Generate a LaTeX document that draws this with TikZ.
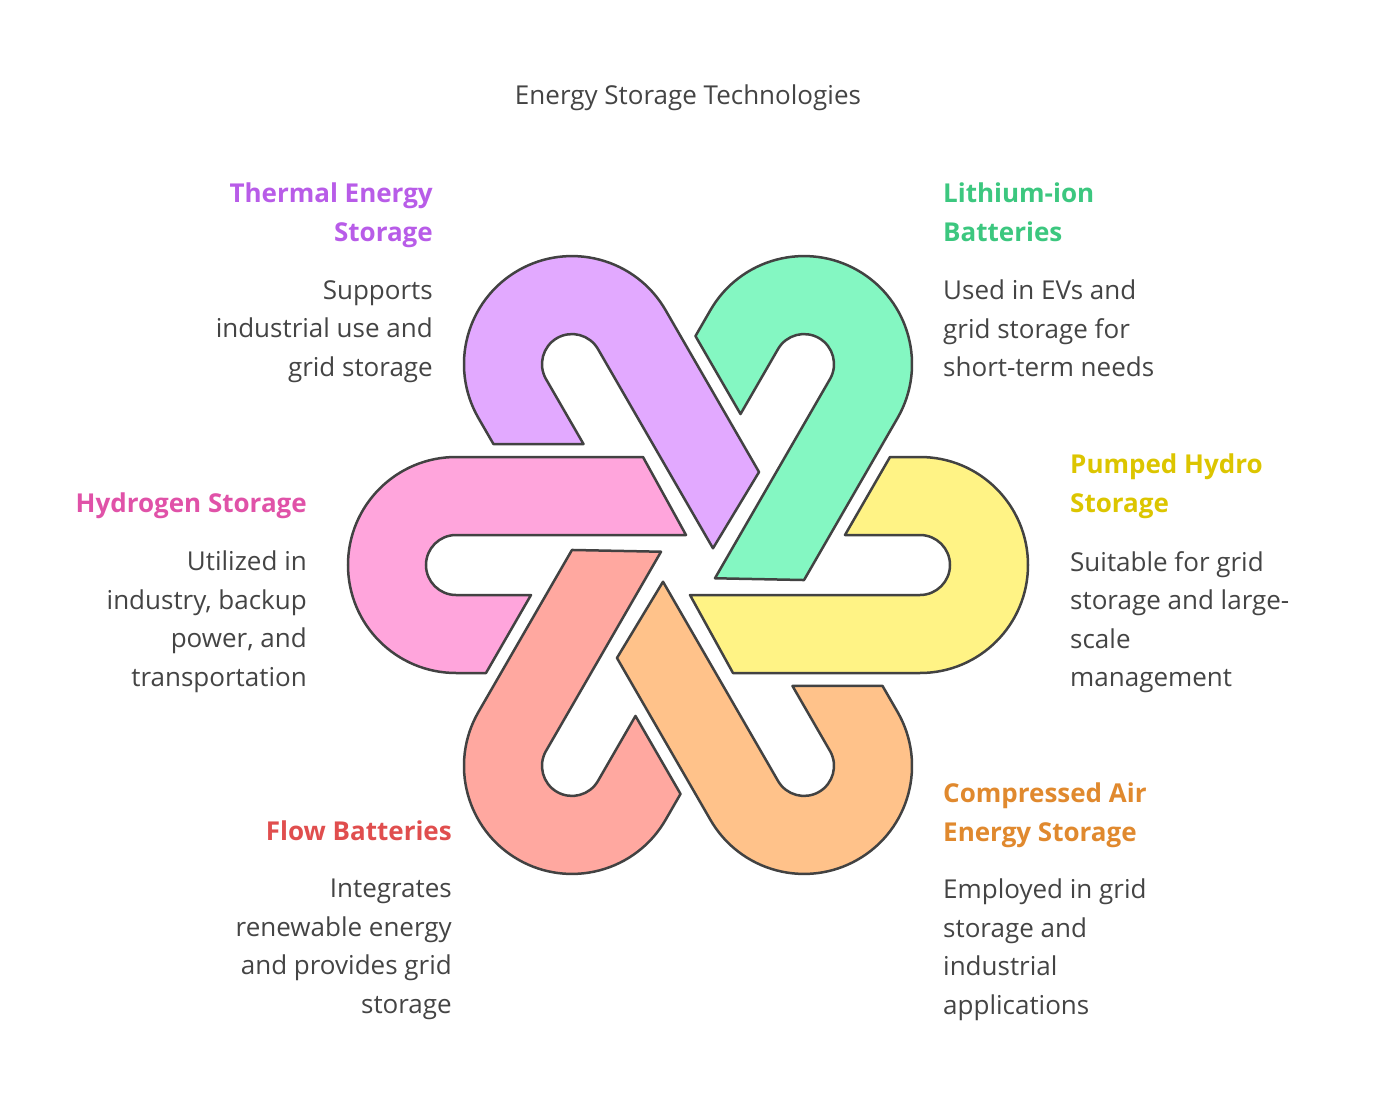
\documentclass[tikz,border=0pt]{standalone}
\usepackage{fontspec}
\setmainfont{Open Sans}
\definecolor{edgegray}{HTML}{424242}
\definecolor{textgray}{HTML}{444444}
\definecolor{hydroFill}{HTML}{FFF385}
\definecolor{lithFill}{HTML}{84F7C2}
\definecolor{thermFill}{HTML}{E2A9FF}
\definecolor{hydrogFill}{HTML}{FFA5DC}
\definecolor{flowFill}{HTML}{FFA8A0}
\definecolor{airFill}{HTML}{FFC28A}
\definecolor{hydroText}{HTML}{DCC500}
\definecolor{lithText}{HTML}{3CC77F}
\definecolor{thermText}{HTML}{B85CE8}
\definecolor{hydrogText}{HTML}{E052A8}
\definecolor{flowText}{HTML}{E04E4E}
\definecolor{airText}{HTML}{E0892E}
\tikzset{
  hook/.style={draw=edgegray,line width=2.5pt,line join=round},
  head/.style={font=\fontsize{26}{38.5}\selectfont\bfseries,inner sep=0pt},
  desc/.style={font=\fontsize{26}{38.5}\selectfont,text=textgray,inner sep=0pt},
}
\begin{document}
\begin{tikzpicture}[x=1pt,y=1pt]
\useasboundingbox (-688,-541) rectangle (690,565);
\node[font=\fontsize{26}{30}\selectfont,text=textgray] (title) at (0,467) {Energy Storage Technologies};
% the six hooks, one shape turned round the centre
\foreach \ang/\col in {0/hydroFill,60/lithFill,120/thermFill,180/hydrogFill,240/flowFill,300/airFill}{
  \draw[hook,fill=\col,rotate=\ang] (45,-108) -- (232,-108) arc (-90:90:108)
    -- (202,108) -- (157,30) -- (232,30) arc (90:-90:30) -- (2,-30) -- cycle;
}
% labels
\node[head,text=thermText,align=right,anchor=north east] (thermH) at (-255,382) {Thermal Energy\\Storage};
\node[desc,align=right,anchor=north east] (thermD) at (-255,285) {Supports\\industrial use and\\grid storage};
\node[head,text=lithText,align=left,anchor=north west] (lithH) at (255,382) {Lithium-ion\\Batteries};
\node[desc,align=left,anchor=north west] (lithD) at (255,285) {Used in EVs and\\grid storage for\\short-term needs};
\node[head,text=hydroText,align=left,anchor=north west] (hydroH) at (382,111) {Pumped Hydro\\Storage};
\node[desc,align=left,anchor=north west] (hydroD) at (382,14) {Suitable for grid\\storage and large-\\scale\\management};
\node[head,text=hydrogText,align=right,anchor=north east] (hydrogH) at (-381,72) {Hydrogen Storage};
\node[desc,align=right,anchor=north east] (hydrogD) at (-381,14) {Utilized in\\industry, backup\\power, and\\transportation};
\node[head,text=flowText,align=right,anchor=north east] (flowH) at (-236,-256) {Flow Batteries};
\node[desc,align=right,anchor=north east] (flowD) at (-236,-314) {Integrates\\renewable energy\\and provides grid\\storage};
\node[head,text=airText,align=left,anchor=north west] (airH) at (255,-218) {Compressed Air\\Energy Storage};
\node[desc,align=left,anchor=north west] (airD) at (255,-314) {Employed in grid\\storage and\\industrial\\applications};
\end{tikzpicture}
\end{document}
